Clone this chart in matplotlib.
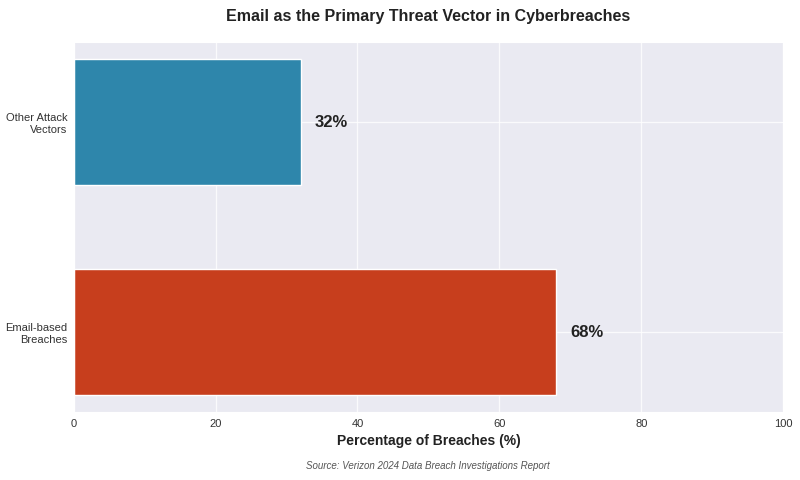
import matplotlib
matplotlib.use("Agg")
import matplotlib.pyplot as plt
import seaborn as sns

categories = ["Email-based\nBreaches", "Other Attack\nVectors"]
values = [68, 32]
colors = ["#C73E1D", "#2E86AB"]
xticks = [0, 20, 40, 60, 80, 100]

sns.set_style("darkgrid")
plt.rcParams['font.family'] = ['Liberation Sans', 'DejaVu Sans']

fig, ax = plt.subplots(figsize=(8, 4.8), dpi=100)
bars = ax.barh(categories, values, height=0.6, color=colors)

for bar, v in zip(bars, values):
    ax.text(bar.get_width() + 2, bar.get_y() + bar.get_height() / 2, f"{v}%",
            va="center", ha="left", fontsize=12, fontweight="bold", color="#222222")

ax.set_xlim(0, 100)
ax.set_xticks(xticks)
ax.grid(True, color="white", linewidth=0.9, alpha=0.8)
ax.tick_params(axis="both", labelsize=8, colors="#333333")
ax.tick_params(axis="x", pad=2)
ax.tick_params(axis="y", pad=1)
ax.set_xlabel("Percentage of Breaches (%)", fontsize=10, fontweight="bold",
              color="#222222", labelpad=3)
ax.set_title("Email as the Primary Threat Vector in Cyberbreaches", fontsize=11.5,
             fontweight="bold", pad=15, color="#222222")

fig.text(0.535, 0.029, "Source: Verizon 2024 Data Breach Investigations Report",
         ha="center", va="center", fontsize=7, style="italic", color="#555555")

fig.subplots_adjust(left=0.092, right=0.979, top=0.912, bottom=0.142)
fig.savefig("out.png")
